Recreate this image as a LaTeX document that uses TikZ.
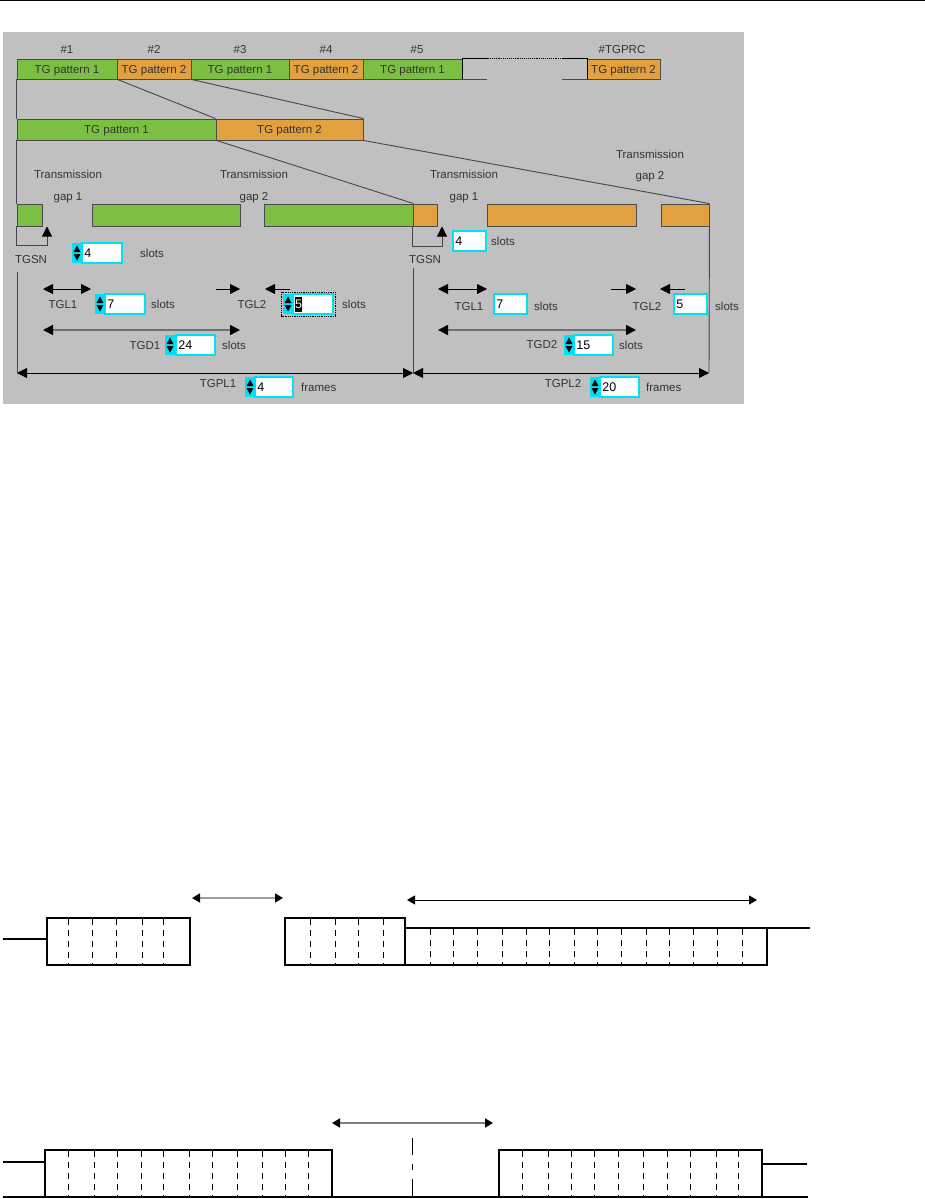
\documentclass[tikz,border=0pt]{standalone}
\usepackage{fontspec}
\setmainfont{Liberation Sans}
\usetikzlibrary{arrows.meta}
\definecolor{panel}{HTML}{C0C0C0}
\definecolor{tggreen}{HTML}{7CC043}
\definecolor{tgorange}{HTML}{E3A03F}
\definecolor{txt}{HTML}{333333}
\definecolor{edge}{HTML}{4A4A4A}
\definecolor{boxcyan}{HTML}{00E0F8}
\definecolor{linkc}{HTML}{45454F}
\definecolor{tgdgray}{HTML}{707070}
\definecolor{lightarrow}{HTML}{A0A0A0}

\newcommand{\tgbar}[7]{%
  \node[tgbar, fill=#2, minimum width={(#5)-(#3)}, minimum height={(#6)-(#4)}]
    (#1) at ({((#3)+(#5))/2},{((#4)+(#6))/2}) {#7};}
\newcommand{\spin}[3]{%
  \node[spinstyle, anchor=north west] (#1) at (#2,#3) {};
  \fill[black] ({#2+1.5},{#3+9}) -- ({#2+8.5},{#3+9}) -- ({#2+5},{#3+2.5}) -- cycle;
  \fill[black] ({#2+1.5},{#3+11}) -- ({#2+8.5},{#3+11}) -- ({#2+5},{#3+17.5}) -- cycle;}
\newcommand{\valbox}[6]{%
  \node[valstyle, minimum width={(#4)-(#2)}, minimum height={(#5)-(#3)}]
    (#1) at ({((#2)+(#4))/2},{((#3)+(#5))/2}) {};
  \node[valtext, anchor=west] (#1-v) at ([xshift=3pt]#1.west) {#6};}
\newcommand{\slotbox}[5]{%
  \node[slotstyle, minimum width={(#4)-(#2)}, minimum height={(#5)-(#3)}]
    (#1) at ({((#2)+(#4))/2},{((#3)+(#5))/2}) {};}

\begin{document}
\begin{tikzpicture}[x=1pt,y=-1pt,
  lbl/.style={font=\fontsize{11.5}{13}\selectfont, text=txt, inner sep=0, text height=8.2pt, text depth=0pt},
  tgbar/.style={draw=edge, line width=0.9pt, inner sep=0, font=\fontsize{11.5}{13}\selectfont, text=txt, text height=8.2pt, text depth=0pt},
  link/.style={draw=linkc, line width=0.9pt},
  spinstyle/.style={fill=boxcyan, minimum width=10pt, minimum height=20pt, inner sep=0},
  valstyle/.style={draw=boxcyan, fill=white, line width=1.8pt, inner sep=0},
  valtext/.style={font=\fontsize{12.5}{14}\selectfont, text=black, inner sep=0, text height=9pt, text depth=0pt},
  dbl/.style={{Triangle[length=10pt,width=10pt]}-{Triangle[length=10pt,width=10pt]}, line width=0.9pt, draw=black},
  sgl/.style={-{Triangle[length=10pt,width=10pt]}, line width=0.9pt, draw=black},
  tgd/.style={{Triangle[length=10pt,width=10pt,color=black]}-{Triangle[length=10pt,width=10pt,color=black]}, line width=1.6pt, draw=tgdgray},
  slotstyle/.style={draw=black, line width=1.6pt, fill=white, inner sep=0},
  slotdash/.style={draw=black, line width=0.8pt, dash pattern=on 6pt off 5pt},
  wire/.style={draw=black, line width=1.8pt},
  bdbl/.style={{Triangle[length=8pt,width=9pt,color=black]}-{Triangle[length=8pt,width=9pt,color=black]}, line width=1pt},
]
\useasboundingbox (0,0) rectangle (925,1199);
\coordinate (rule-l) at (0,0.75);
\coordinate (rule-r) at (925,0.75);
\draw[line width=1.5pt] (rule-l) -- (rule-r);

% ---------- screenshot panel ----------
\fill[panel] (3,32) rectangle (744,404);

% row 1
\tgbar{r1a}{tggreen}{17}{59}{117}{79}{TG pattern 1}
\tgbar{r1b}{tgorange}{117}{59}{191}{79}{TG pattern 2}
\tgbar{r1c}{tggreen}{191}{59}{289}{79}{TG pattern 1}
\tgbar{r1d}{tgorange}{289}{59}{363}{79}{TG pattern 2}
\tgbar{r1e}{tggreen}{363}{59}{462}{79}{TG pattern 1}
\tgbar{r1f}{tgorange}{587}{59}{660}{79}{TG pattern 2}
\node[lbl] (h1) at (67,49) {\#1};
\node[lbl] (h2) at (154,49) {\#2};
\node[lbl] (h3) at (240,49) {\#3};
\node[lbl] (h4) at (326,49) {\#4};
\node[lbl] (h5) at (417,49) {\#5};
\node[lbl] (h6) at (622,49) {\#TGPRC};
% gap frame
\coordinate (gf1) at (462,58); \coordinate (gf2) at (488,58);
\coordinate (gf3) at (562,58); \coordinate (gf4) at (587,58);
\coordinate (gf5) at (462,79); \coordinate (gf6) at (487,79);
\coordinate (gf7) at (562,79); \coordinate (gf8) at (587,79);
\draw[black, line width=0.9pt] (gf1) -- (gf2) (gf3) -- (gf4) (gf1) -- (gf5) (gf4) -- (gf8);
\draw[black, line width=0.9pt, densely dotted] (gf2) -- (gf3);
\draw[edge, line width=0.9pt] (gf5) -- (gf6) (gf7) -- (gf8);

% row 2
\tgbar{r2a}{tggreen}{17}{119}{216}{140}{TG pattern 1}
\tgbar{r2b}{tgorange}{216}{119}{363}{140}{TG pattern 2}
\draw[link] (r1a.south east) -- (r2b.north west);
\draw[link] (r1b.south east) -- (r2b.north east);
\draw[link] (r1a.south west) -- (r2a.north west);

% row 3
\tgbar{g1}{tggreen}{17}{204}{42}{226}{}
\tgbar{g2}{tggreen}{92}{204}{240}{226}{}
\tgbar{g3}{tggreen}{264}{204}{413}{226}{}
\tgbar{o1}{tgorange}{413}{204}{437}{226}{}
\tgbar{o2}{tgorange}{487}{204}{636}{226}{}
\tgbar{o3}{tgorange}{661}{204}{709}{226}{}
\draw[link] (r2a.south east) -- (g3.north east);
\draw[link] (r2b.south east) -- (o3.north east);
\draw[link] (r2a.south west) -- (g1.north west);

\node[lbl] (tx1) at (68,174) {Transmission};
\node[lbl] (gp1) at (68,196) {gap 1};
\node[lbl] (tx2) at (254,174) {Transmission};
\node[lbl] (gp2) at (254,196) {gap 2};
\node[lbl] (tx3) at (464,174) {Transmission};
\node[lbl] (gp3) at (464,196) {gap 1};
\node[lbl] (tx4) at (650,154) {Transmission};
\node[lbl] (gp4) at (650,175) {gap 2};

% TGSN pattern 1
\coordinate (k1) at (47,245); \coordinate (s1) at (47,226.5);
\draw[link, -{Triangle[length=10pt,width=10pt,color=black]}] (g1.south west) |- (k1) -- (s1);
\node[lbl] (tgsn1) at (31,259) {TGSN};
\spin{sp1}{72}{243}
\valbox{vb1}{82}{243}{122}{263}{4}
\node[lbl, anchor=west] (sl1) at (140,253) {slots};

% TGSN pattern 2
\coordinate (k2) at (442,246); \coordinate (s2) at (442,226.5);
\draw[link, -{Triangle[length=10pt,width=10pt,color=black]}] (o1.south west) |- (k2) -- (s2);
\node[lbl] (tgsn2) at (425,259) {TGSN};
\valbox{vb2}{453}{231}{486}{251}{4}
\node[lbl, anchor=west] (sl2) at (491,241) {slots};

% long verticals and TGPL arrows
\coordinate (v1t) at (17,272); \coordinate (v1b) at (17,373);
\coordinate (v2t) at (413,268); \coordinate (v2b) at (413,373);
\coordinate (v3b) at (709,373);
\draw[link] (v1t) -- (v1b);
\draw[link] (v2t) -- (v2b);
\draw[link] (o3.south east) -- (v3b);
\draw[dbl] (v1b) -- (v2b);
\draw[dbl] (v2b) -- (v3b);

% pattern 1 : TGL1, TGL2, TGD1, TGPL1
\coordinate (a1l) at (43,289); \coordinate (a1r) at (91,289);
\draw[dbl] (a1l) -- (a1r);
\node[lbl] (tgl1a) at (63,304) {TGL1};
\spin{sp2}{95}{294}
\valbox{vb3}{105}{294}{145}{314}{7}
\node[lbl, anchor=west] (sl3) at (151,304) {slots};

\coordinate (a2a) at (216,289); \coordinate (a2b) at (240,289);
\coordinate (a2c) at (290,289); \coordinate (a2d) at (265,289);
\draw[sgl] (a2a) -- (a2b);
\draw[sgl] (a2c) -- (a2d);
\node[lbl] (tgl2a) at (252,304) {TGL2};
\draw[black, line width=0.8pt, densely dotted] (281.5,292) rectangle (335,316);
\spin{sp3}{283}{294}
\valbox{vb4}{293}{294}{333}{314}{}
\node[fill=black, text=white, font=\fontsize{12.5}{14}\selectfont, inner sep=0pt, minimum width=7.5pt, minimum height=15pt, anchor=west] (vb4-v) at ([xshift=2.5pt]vb4.west) {5};
\node[lbl, anchor=west] (sl4) at (342,304) {slots};

\coordinate (d1l) at (43,330); \coordinate (d1r) at (240,330);
\draw[tgd] (d1l) -- (d1r);
\node[lbl] (tgd1) at (145,345) {TGD1};
\spin{sp4}{165}{335}
\valbox{vb5}{176}{335}{215}{355}{24}
\node[lbl, anchor=west] (sl5) at (222,345) {slots};

\node[lbl] (tgpl1) at (218,383) {TGPL1};
\spin{sp5}{245}{377}
\valbox{vb6}{255}{377}{293}{397}{4}
\node[lbl, anchor=west] (fr1) at (301,387) {frames};

% pattern 2 : TGL1, TGL2, TGD2, TGPL2
\coordinate (b1l) at (438,289); \coordinate (b1r) at (487,289);
\draw[dbl] (b1l) -- (b1r);
\node[lbl] (tgl1b) at (469,306) {TGL1};
\valbox{vb7}{494}{294}{527}{314}{7}
\node[lbl, anchor=west] (sl7) at (534,306) {slots};

\coordinate (b2a) at (611,289); \coordinate (b2b) at (636,289);
\coordinate (b2c) at (685,289); \coordinate (b2d) at (660,289);
\draw[sgl] (b2a) -- (b2b);
\draw[sgl] (b2c) -- (b2d);
\node[lbl] (tgl2b) at (647,306) {TGL2};
\valbox{vb8}{674}{294}{707}{314}{5}
\node[lbl, anchor=west] (sl8) at (715,306) {slots};

\coordinate (d2l) at (438,330); \coordinate (d2r) at (636,330);
\draw[tgd] (d2l) -- (d2r);
\node[lbl] (tgd2) at (542,344) {TGD2};
\spin{sp6}{564}{335}
\valbox{vb9}{574}{335}{613}{355}{15}
\node[lbl, anchor=west] (sl9) at (619,345) {slots};

\node[lbl] (tgpl2) at (563,383) {TGPL2};
\spin{sp7}{590}{377}
\valbox{vb10}{600}{377}{639}{397}{20}
\node[lbl, anchor=west] (fr2) at (646,387) {frames};

% ---------- lower diagram 1 ----------
\slotbox{fa}{47}{918}{190}{965}
\slotbox{fb}{285}{918}{405}{965}
\slotbox{fc}{405}{928}{767}{965}
\foreach \x in {68,92,116,142,163,310,335,358,383} \draw[slotdash] (\x,919) -- (\x,966);
\foreach \x in {430,453,477,502,526,549,574,597,621,646,669,693,717,742} \draw[slotdash] (\x,929) -- (\x,966);
\coordinate (w1) at (3,939);
\coordinate (w2) at (810,928);
\draw[wire] (w1) -- (fa.west |- w1);
\draw[wire] (fc.east |- w2) -- (w2);
\coordinate (ga1) at (192,898); \coordinate (ga2) at (283,898);
\draw[bdbl, draw=lightarrow, line width=1.5pt] (ga1) -- (ga2);
\coordinate (gb1) at (407,900); \coordinate (gb2) at (757,900);
\draw[bdbl, draw=black] (gb1) -- (gb2);

% ---------- lower diagram 2 ----------
\slotbox{fd}{45}{1150}{332}{1197}
\slotbox{fe}{499}{1150}{762}{1197}
\foreach \x in {68,94,117,141,163,189,212,237,262,285,308,522,548,571,594,618,643,667,690,716,738} \draw[slotdash] (\x,1151) -- (\x,1198);
\coordinate (w3) at (3,1162);
\coordinate (w4) at (807,1164);
\coordinate (bl) at (3,1197);
\coordinate (br) at (808,1197);
\draw[wire] (w3) -- (fd.west |- w3);
\draw[wire] (fe.east |- w4) -- (w4);
\draw[wire] (bl) -- (br);
\coordinate (sep1) at (412,1138); \coordinate (sep2) at (412,1197);
\draw[black, line width=0.9pt, dash pattern=on 17pt off 9pt on 6pt off 9pt] (sep1) -- (sep2);
\coordinate (gc1) at (332,1123); \coordinate (gc2) at (493,1123);
\draw[bdbl, draw=lightarrow!80!black, line width=1.5pt] (gc1) -- (gc2);
\end{tikzpicture}
\end{document}
